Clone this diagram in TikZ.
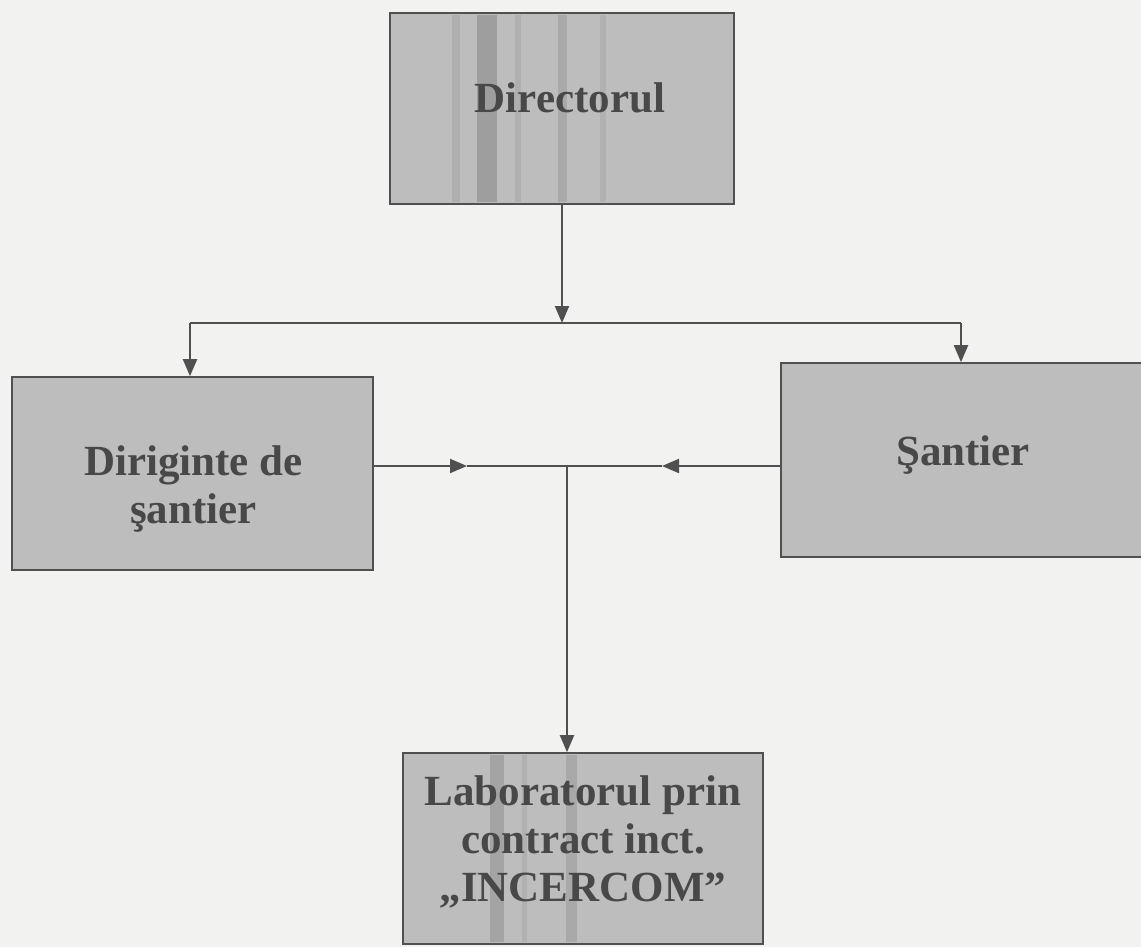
\documentclass[tikz,border=0pt]{standalone}
\usepackage{fontspec}
\setmainfont{Liberation Serif}
\usetikzlibrary{arrows.meta}
\definecolor{bg}{HTML}{F2F2F0}
\definecolor{boxfill}{HTML}{BDBDBD}
\definecolor{ink}{HTML}{484848}
\definecolor{linec}{HTML}{505050}
\begin{document}
\begin{tikzpicture}[x=1pt,y=-1pt,
  orgbox/.style={draw=linec, line width=1.6pt, fill=boxfill, rectangle, inner sep=0pt},
  lbl/.style={text=ink, font=\fontsize{43}{48}\selectfont\bfseries, align=center, inner sep=0pt},
  conn/.style={draw=linec, line width=2pt},
  arr/.style={conn, -{Triangle[length=17pt,width=14pt]}},
  band/.style={fill=black, draw=none}]
\path[fill=bg] (0,0) rectangle (1141,947);
\useasboundingbox (0,0) rectangle (1141,947);
\begin{scope}
\clip (0,0) rectangle (1141,947);
% boxes
\node[orgbox, minimum width=344pt, minimum height=191pt] (dir) at (562,108.5) {};
\node[orgbox, minimum width=361pt, minimum height=193pt] (dirig) at (192.5,473.5) {};
\node[orgbox, minimum width=364pt, minimum height=194pt] (sant) at (963,460) {};
\node[orgbox, minimum width=360pt, minimum height=191pt] (lab) at (583,848.5) {};
% scan stripes
\fill[band, opacity=0.07] (452,15) rectangle (460,202);
\fill[band, opacity=0.16] (477,15) rectangle (497,202);
\fill[band, opacity=0.07] (515,15) rectangle (521,202);
\fill[band, opacity=0.10] (558,15) rectangle (567,202);
\fill[band, opacity=0.06] (600,15) rectangle (606,202);
\fill[band, opacity=0.13] (490,755) rectangle (504,942);
\fill[band, opacity=0.06] (522,755) rectangle (527,942);
\fill[band, opacity=0.10] (566,755) rectangle (577,942);
% labels
\node[lbl] (dirT) at (570,97.5) {Directorul};
\node[lbl] (dirigT) at (193.5,489) {Diriginte de\\şantier};
\node[lbl] (santT) at (963,455) {Şantier};
\node[lbl] (labT) at (583,842) {Laboratorul prin\\contract inct.\\„INCERCOM”};
% connectors
\coordinate (jt) at (562,323);
\coordinate (jl) at (190,323);
\coordinate (jr) at (961,323);
\draw[arr] (dir.south) -- (jt);
\draw[conn] (jl) -- (jr);
\draw[arr] (jl) -- (dirig.north -| jl);
\draw[arr] (jr) -- (sant.north -| jr);
\coordinate (aR) at (467,466);
\coordinate (aL) at (662,466);
\coordinate (jm) at (567,466);
\draw[arr] (dirig.east |- aR) -- (aR);
\draw[conn] (aR) -- (aL);
\draw[arr] (sant.west |- aL) -- (aL);
\draw[arr] (jm) -- (lab.north -| jm);
\end{scope}
\end{tikzpicture}
\end{document}
